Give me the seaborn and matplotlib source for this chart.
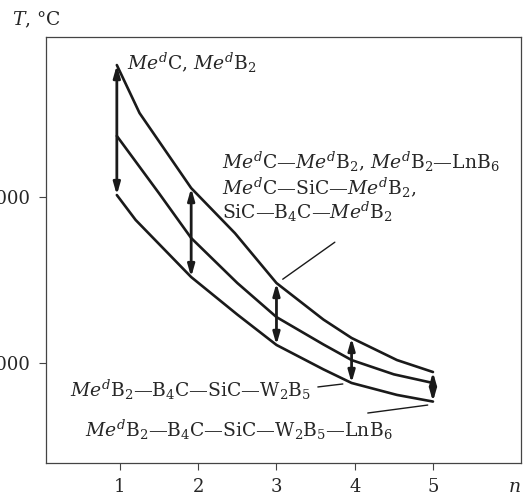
import numpy as np
import pandas as pd
import matplotlib
matplotlib.use("Agg")
import matplotlib.pyplot as plt
import seaborn as sns

# curve readings (n, T)
n_upper = [0.96, 1.25, 1.91, 2.47, 3.0, 3.6, 3.96, 4.54, 5.0]
T_upper = [3793, 3504, 3052, 2780, 2480, 2260, 2149, 2016, 1944]
n_middle = [0.96, 1.5, 1.91, 2.5, 3.0, 3.6, 3.96, 4.5, 5.0]
T_middle = [3366, 3020, 2751, 2480, 2275, 2110, 2016, 1930, 1878]
n_lower = [0.96, 1.2, 1.91, 2.5, 3.0, 3.6, 3.96, 4.54, 5.0]
T_lower = [3010, 2860, 2516, 2290, 2107, 1960, 1878, 1806, 1766]

# double arrows: n position, bottom T, top T
arrow_n = [0.96, 1.91, 3.0, 3.96, 5.0]
arrow_lo = [3010, 2516, 2107, 1878, 1766]
arrow_hi = [3793, 3052, 2480, 2149, 1944]

x_ticks = [1, 2, 3, 4, 5]
y_ticks = [2000, 3000]

sns.set_style("ticks")
plt.rcParams["font.family"] = ["DejaVu Serif"]
plt.rcParams["mathtext.fontset"] = "custom"
plt.rcParams["mathtext.rm"] = "DejaVu Serif"
plt.rcParams["mathtext.it"] = "DejaVu Serif:italic"

fig = plt.figure(figsize=(5.23, 4.98), dpi=100)
ax = fig.add_axes([0.088, 0.0703, 0.908, 0.8554])

frames = []
for name, xs, ys in [("upper", n_upper, T_upper), ("middle", n_middle, T_middle), ("lower", n_lower, T_lower)]:
    frames.append(pd.DataFrame({"n": xs, "T": ys, "curve": name}))
df = pd.concat(frames)
sns.lineplot(data=df, x="n", y="T", units="curve", estimator=None, color="#1a1a1a",
             lw=1.9, sort=False, ax=ax, legend=False)

for xa, lo, hi in zip(arrow_n, arrow_lo, arrow_hi):
    ax.annotate("", xy=(xa, hi), xytext=(xa, lo),
                arrowprops=dict(arrowstyle="<|-|>,head_length=0.7,head_width=0.2",
                                color="#1a1a1a", lw=2.0, shrinkA=0, shrinkB=0))

ax.set_xlim(0.055, 6.124)
ax.set_ylim(1396, 3962)
ax.set_xticks(x_ticks)
ax.set_yticks(y_ticks)
ax.set_xlabel("")
ax.set_ylabel("")
ax.tick_params(labelsize=13, length=5, width=0.8, color="#444444", pad=6)
for s in ax.spines.values():
    s.set_linewidth(0.9)
    s.set_color("#444444")

fs = 13.5
me = r"$\mathit{Me}^{\mathit{d}}$"
ax.text(1.09, 3805, me + "C, " + me + r"B$_2$", fontsize=fs, va="center")
ax.text(2.30, 3209, me + "C—" + me + r"B$_2$, " + me + r"B$_2$—LnB$_6$", fontsize=fs, va="center")
ax.text(2.30, 3052, me + "C—SiC—" + me + r"B$_2$,", fontsize=fs, va="center")
ax.text(2.30, 2907, r"SiC—B$_4$C—" + me + r"B$_2$", fontsize=fs, va="center")
ax.text(0.36, 1836, me + r"B$_2$—B$_4$C—SiC—W$_2$B$_5$", fontsize=fs, va="center")
ax.text(0.553, 1596, me + r"B$_2$—B$_4$C—SiC—W$_2$B$_5$—LnB$_6$", fontsize=fs, va="center")

ax.plot([3.08, 3.746], [2503, 2726], color="#1a1a1a", lw=1.0)
ax.plot([3.529, 3.848], [1854, 1872], color="#1a1a1a", lw=1.0)
ax.plot([4.167, 4.933], [1697, 1745], color="#1a1a1a", lw=1.0)

fig.text(12 / 523, 1 - 20 / 498, r"$\mathit{T}$, °C", fontsize=fs, va="center", ha="left")
fig.text(508 / 523, 1 - 487 / 498, r"$\mathit{n}$", fontsize=fs, va="center", ha="left")

fig.savefig("out.png", dpi=100)
